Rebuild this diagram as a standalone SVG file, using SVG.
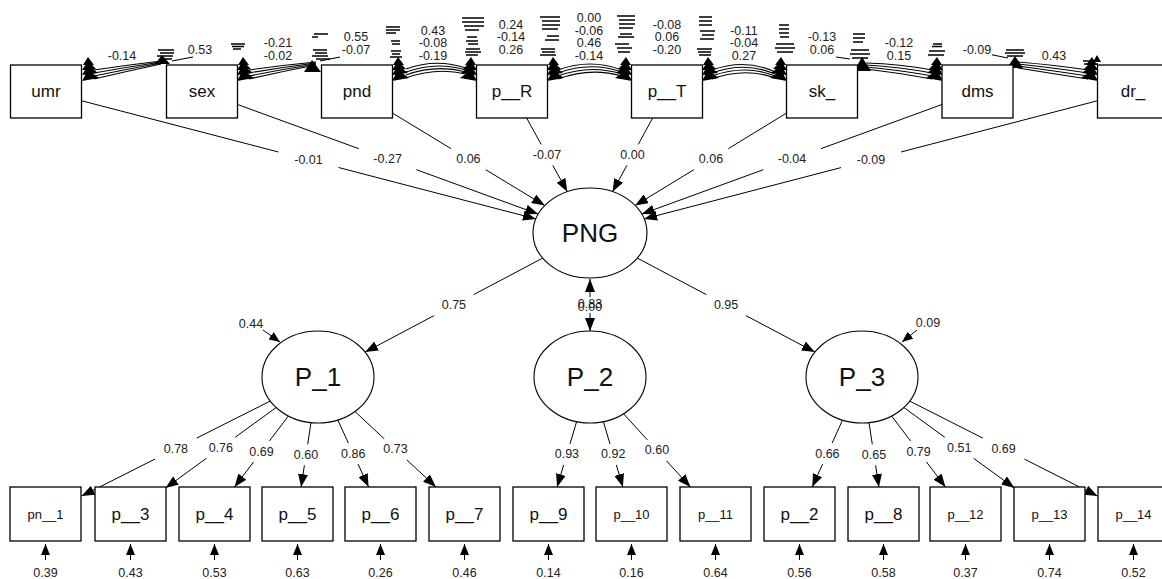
<svg xmlns="http://www.w3.org/2000/svg" width="1162" height="579" viewBox="0 0 1162 579">
  <style>
    .box { fill: #fff; stroke: #000; stroke-width: 1.3; }
    .lat { fill: #fff; stroke: #000; stroke-width: 1.1; }
    .edge { fill: none; stroke: #000; stroke-width: 1; }
    .fan { fill: none; stroke: #000; stroke-width: 1.1; }
    .clut { fill: none; stroke: #000; stroke-width: 1.3; }
    .lbl { font-family: "Liberation Sans", Arial, sans-serif; font-size: 12.5px; text-anchor: middle; dominant-baseline: central; fill: #222; }
    .bg { fill: #fff; }
    .nm { font-family: "Liberation Sans", Arial, sans-serif; font-size: 17px; text-anchor: middle; dominant-baseline: central; fill: #111; }
    .nms { font-size: 13px; }
    .lv { font-family: "Liberation Sans", Arial, sans-serif; font-size: 26px; text-anchor: middle; dominant-baseline: central; fill: #111; }
  </style>
  <defs>
    <marker id="ah" viewBox="0 0 13 10" refX="13" refY="5" markerWidth="13" markerHeight="10" markerUnits="userSpaceOnUse" orient="auto">
      <path d="M0,0 L13,5 L0,10 Z" fill="#000"/>
    </marker>
    <marker id="ahs" viewBox="0 0 11 9" refX="11" refY="4.5" markerWidth="11" markerHeight="9" markerUnits="userSpaceOnUse" orient="auto">
      <path d="M0,0 L11,4.5 L0,9 Z" fill="#000"/>
    </marker>
    <!-- stacked covariance arrowheads at a box corner -->
    <path id="tree" d="M5,-8 L0,0 L11,0 Z M5,-4 L-1,5 L13,4 Z M5,0 L-1,10 L15,8 Z M5,5 L-1,16 L16,13 Z" fill="#000"/>
  </defs>

  <!-- connectors -->
  <g id="connectors">
    <!-- covariance curves among the exogenous variables -->
    <g id="covariances">
      <path class="fan" d="M94,79 Q128,71 161,64 M94,76 Q128,69 161,63 M94,73 Q128,67 161,62 M94,70 Q128,65 161,61"/>
      <path class="fan" d="M249,79 Q284,71 316,65 M249,76 Q284,69 316,64 M249,73 Q284,67 316,63 M249,70 Q284,65 316,62"/>
      <path class="fan" d="M406,69 Q436,58 466,68 M406,72 Q436,61 466,70 M406,75 Q436,64 466,72 M406,78 Q436,67 466,74"/>
      <path class="fan" d="M558,70 Q590,58 622,70 M558,73 Q590,61 622,72 M558,76 Q590,64 622,74 M558,79 Q590,67 622,76"/>
      <path class="fan" d="M712,70 Q745,58 775,72 M712,73 Q745,61 775,74 M712,76 Q745,64 775,76 M712,79 Q745,67 775,78"/>
      <path class="fan" d="M866,63 Q900,64 932,70 M866,65 Q900,67 932,73 M866,67 Q900,70 932,76 M866,69 Q900,73 932,79"/>
      <path class="fan" d="M1018,62 Q1055,65 1088,70 M1018,64 Q1055,68 1088,73 M1018,66 Q1055,71 1088,76 M1018,68 Q1055,74 1088,79"/>
      <path class="fan" d="M172,61 L193,57 M320,61 L340,57 M836,57 L850,59 M988,54 L1008,58"/>

      <use href="#tree" transform="translate(83,65)"/>
      <use href="#tree" transform="translate(238,65)"/>
      <use href="#tree" transform="translate(393,65)"/>
      <use href="#tree" transform="translate(476,65) scale(-1,1)"/>
      <use href="#tree" transform="translate(548,65)"/>
      <use href="#tree" transform="translate(631,65) scale(-1,1)"/>
      <use href="#tree" transform="translate(703,65)"/>
      <use href="#tree" transform="translate(786,65) scale(-1,1)"/>
      <use href="#tree" transform="translate(942,65) scale(-1,1)"/>
      <use href="#tree" transform="translate(1097,65) scale(-1,1)"/>
      <path d="M162,55 L155,64 L170,64 Z M312,60 L304,72 L321,72 Z M862,57 L854,71 L871,71 Z M1015,56 L1007,68 L1023,68 Z M1097,55 L1093,62 L1101,62 Z" fill="#000"/>

      <path class="clut" d="M158,50h16 M160,53h14 M157,56h16 M160,59h12
        M231,44h14 M232,46.5h12 M233,49h8
        M314,34h14 M312,37h6 M313,50h14 M315,53h12 M312,56h16 M316,59h14
        M386,27h14 M386,30h14 M386,33h10 M391,41h9 M392,44h8 M391,51h10 M392,54h8 M390,57h12
        M462,18h22 M462,22h22 M464,26h20 M465,30h14 M467,37h10 M466,41h12 M468,44h10 M466,49h14 M465,52h16 M466,55h12
        M540,17h20 M542,21h18 M542,25h18 M542,29h16 M547,36h12 M545,40h14 M541,49h14 M542,52h13 M540,55h16
        M617,16h18 M619,20h16 M619,24h16 M619,28h14 M620,34h12 M618,37h16 M615,44h14 M617,48h15 M618,52h12
        M699,17h13 M699,21h13 M699,25h13 M700,31h15 M702,35h12 M700,39h14 M697,49h15 M698,52h13 M699,55h12
        M779,25h10 M779,29h10 M779,33h10 M780,37h9 M776,44h18 M775,48h20 M777,52h16
        M853,34h12 M853,38h12 M853,42h10 M851,50h18 M850,54h20 M852,58h16
        M933,44h9 M932,46.5h10 M929,51h16 M928,55h16
        M1006,50h18 M1005,53h20 M1007,56h16
        M1083,61h14 M1084,64h14"/>

      <g id="cov-labels">
        <g class="bg">
          <rect x="107" y="49.5" width="30" height="12"/>
          <rect x="186" y="44" width="28" height="12"/>
          <rect x="263" y="37" width="30" height="25"/>
          <rect x="341" y="31" width="30" height="25"/>
          <rect x="418" y="24.7" width="30" height="37"/>
          <rect x="496" y="18.5" width="30" height="37"/>
          <rect x="574" y="12.3" width="30" height="49"/>
          <rect x="652" y="18.5" width="30" height="37"/>
          <rect x="729" y="24.7" width="30" height="37"/>
          <rect x="807" y="31" width="30" height="25"/>
          <rect x="884" y="37" width="30" height="25"/>
          <rect x="962" y="44" width="30" height="12"/>
          <rect x="1040" y="49.5" width="28" height="12"/>
        </g>
        <text class="lbl" x="122" y="55.5">-0.14</text>
        <text class="lbl" x="200" y="50">0.53</text>
        <text class="lbl" x="278" y="43">-0.21</text>
        <text class="lbl" x="278" y="55.5">-0.02</text>
        <text class="lbl" x="356" y="37">0.55</text>
        <text class="lbl" x="356" y="50">-0.07</text>
        <text class="lbl" x="433" y="30.7">0.43</text>
        <text class="lbl" x="433" y="43">-0.08</text>
        <text class="lbl" x="433" y="55.5">-0.19</text>
        <text class="lbl" x="511" y="24.5">0.24</text>
        <text class="lbl" x="511" y="37">-0.14</text>
        <text class="lbl" x="511" y="49.5">0.26</text>
        <text class="lbl" x="589" y="18.3">0.00</text>
        <text class="lbl" x="589" y="30.7">-0.06</text>
        <text class="lbl" x="589" y="43">0.46</text>
        <text class="lbl" x="589" y="55.5">-0.14</text>
        <text class="lbl" x="667" y="24.5">-0.08</text>
        <text class="lbl" x="667" y="37">0.06</text>
        <text class="lbl" x="667" y="49.5">-0.20</text>
        <text class="lbl" x="744" y="30.7">-0.11</text>
        <text class="lbl" x="744" y="43">-0.04</text>
        <text class="lbl" x="744" y="55.5">0.27</text>
        <text class="lbl" x="822" y="37">-0.13</text>
        <text class="lbl" x="822" y="50">0.06</text>
        <text class="lbl" x="899" y="43">-0.12</text>
        <text class="lbl" x="899" y="55.5">0.15</text>
        <text class="lbl" x="977" y="50">-0.09</text>
        <text class="lbl" x="1054" y="55.5">0.43</text>
      </g>
    </g>

    <!-- regressions onto PNG -->
    <g id="regressions">
      <path class="edge" marker-end="url(#ah)" d="M81,100.6 L278.4,152 M338.5,167.5 L535.9,218.9"/>
      <path class="edge" marker-end="url(#ah)" d="M237,104.3 L358.8,148.7 M416.4,169.7 L538.2,214.1"/>
      <path class="edge" marker-end="url(#ah)" d="M392,112.8 L451.1,148.7 M485.7,169.7 L544.8,205.6"/>
      <path class="edge" marker-end="url(#ah)" d="M526.6,118 L541.2,144.4 M552.8,165.4 L567.3,191.7"/>
      <path class="edge" marker-end="url(#ah)" d="M652.6,118 L638.3,144.4 M626.9,165.4 L612.5,191.7"/>
      <path class="edge" marker-end="url(#ah)" d="M787,112.8 L728.3,148.7 M693.9,169.7 L635.1,205.5"/>
      <path class="edge" marker-end="url(#ah)" d="M942.5,104.3 L820.9,148.7 M763.3,169.7 L641.7,214.1"/>
      <path class="edge" marker-end="url(#ah)" d="M1098,100.6 L901,152 M841,167.6 L644.1,218.9"/>
      <text class="lbl" x="308.5" y="159.7">-0.01</text>
      <text class="lbl" x="387.6" y="159.2">-0.27</text>
      <text class="lbl" x="468.4" y="159.2">0.06</text>
      <text class="lbl" x="547" y="154.9">-0.07</text>
      <text class="lbl" x="632.5" y="154.9">0.00</text>
      <text class="lbl" x="711" y="159.2">0.06</text>
      <text class="lbl" x="792" y="159.2">-0.04</text>
      <text class="lbl" x="871" y="159.7">-0.09</text>
    </g>

    <!-- PNG to first-order factors -->
    <g id="second-order">
      <path class="edge" marker-end="url(#ah)" d="M542.7,258.1 L473.7,294.6 M434.1,315.6 L365.1,352.1"/>
      <path class="edge" marker-end="url(#ah)" d="M637.3,258.1 L706.3,294.6 M745.9,315.6 L814.9,352.1"/>
      <path class="edge" marker-end="url(#ah)" d="M590,297 L590,279"/>
      <path class="edge" marker-end="url(#ah)" d="M590,313 L590,331"/>
      <text class="lbl" x="453.9" y="305">0.75</text>
      <text class="lbl" x="726.1" y="305">0.95</text>
      <!-- coincident labels of the two PNG–P_2 paths -->
      <text class="lbl" x="590" y="304">0.83</text>
      <text class="lbl" x="590" y="307">0.00</text>
      <path class="edge" marker-end="url(#ahs)" d="M263,330 L280,342"/>
      <path class="edge" marker-end="url(#ahs)" d="M917,330 L902,342"/>
      <text class="lbl" x="251" y="324">0.44</text>
      <text class="lbl" x="928" y="323">0.09</text>
    </g>

    <!-- factor loadings -->
    <g id="loadings">
      <path class="edge" marker-end="url(#ah)" d="M270.3,401 L196.7,438.1 M155.1,459 L81.5,496.1"/>
      <path class="edge" marker-end="url(#ah)" d="M276.1,407.5 L235.2,437.3 M206.4,458.3 L165.5,488.1"/>
      <path class="edge" marker-end="url(#ah)" d="M288.4,416 L269.4,441 M253.5,462 L234.5,487"/>
      <path class="edge" marker-end="url(#ah)" d="M311,422.6 L307.7,444.3 M304.4,465.3 L301.1,487"/>
      <path class="edge" marker-end="url(#ah)" d="M337.8,420 L348.4,443 M358,464 L368.6,487"/>
      <path class="edge" marker-end="url(#ah)" d="M355,411.5 L384.2,438.8 M406.8,459.8 L436,487"/>
      <path class="edge" marker-end="url(#ah)" d="M576.6,421.7 L570,443.9 M563.7,464.9 L557.1,487"/>
      <path class="edge" marker-end="url(#ah)" d="M603.4,421.7 L610,443.9 M616.3,464.9 L622.9,487"/>
      <path class="edge" marker-end="url(#ah)" d="M623.6,413.8 L647.4,439.9 M666.6,460.9 L690.4,487"/>
      <path class="edge" marker-end="url(#ah)" d="M842.5,420.1 L832.1,443.1 M822.6,464.1 L812.2,487"/>
      <path class="edge" marker-end="url(#ah)" d="M869,422.6 L872.3,444.3 M875.6,465.3 L878.9,487"/>
      <path class="edge" marker-end="url(#ah)" d="M891.6,416 L910.6,441 M926.5,462 L945.5,487"/>
      <path class="edge" marker-end="url(#ah)" d="M903.9,407.5 L944.8,437.3 M973.6,458.3 L1014.5,488.1"/>
      <path class="edge" marker-end="url(#ah)" d="M909.7,401.1 L982.8,438.1 M1024.4,459.1 L1097.5,496.1"/>
      <text class="lbl" x="175.9" y="448.6">0.78</text>
      <text class="lbl" x="220.8" y="447.8">0.76</text>
      <text class="lbl" x="261.5" y="451.5">0.69</text>
      <text class="lbl" x="306" y="454.8">0.60</text>
      <text class="lbl" x="353.2" y="453.5">0.86</text>
      <text class="lbl" x="395.5" y="449.3">0.73</text>
      <text class="lbl" x="566.9" y="454.4">0.93</text>
      <text class="lbl" x="613.2" y="454.4">0.92</text>
      <text class="lbl" x="657" y="450.4">0.60</text>
      <text class="lbl" x="827.4" y="453.6">0.66</text>
      <text class="lbl" x="874" y="454.8">0.65</text>
      <text class="lbl" x="918.6" y="451.5">0.79</text>
      <text class="lbl" x="959.2" y="447.8">0.51</text>
      <text class="lbl" x="1003.6" y="448.6">0.69</text>
    </g>

    <!-- residual variances of the indicators -->
    <g id="residuals">
      <path class="edge" marker-end="url(#ahs)" d="M45.5,560 V544"/>
      <path class="edge" marker-end="url(#ahs)" d="M130.5,560 V544"/>
      <path class="edge" marker-end="url(#ahs)" d="M214.5,560 V544"/>
      <path class="edge" marker-end="url(#ahs)" d="M297.5,560 V544"/>
      <path class="edge" marker-end="url(#ahs)" d="M380.5,560 V544"/>
      <path class="edge" marker-end="url(#ahs)" d="M464.5,560 V544"/>
      <path class="edge" marker-end="url(#ahs)" d="M548.5,560 V544"/>
      <path class="edge" marker-end="url(#ahs)" d="M631.5,560 V544"/>
      <path class="edge" marker-end="url(#ahs)" d="M715.5,560 V544"/>
      <path class="edge" marker-end="url(#ahs)" d="M799.5,560 V544"/>
      <path class="edge" marker-end="url(#ahs)" d="M883.5,560 V544"/>
      <path class="edge" marker-end="url(#ahs)" d="M965.5,560 V544"/>
      <path class="edge" marker-end="url(#ahs)" d="M1049.5,560 V544"/>
      <path class="edge" marker-end="url(#ahs)" d="M1133.5,560 V544"/>
      <text class="lbl" x="45.5" y="573">0.39</text>
      <text class="lbl" x="130.5" y="573">0.43</text>
      <text class="lbl" x="214.5" y="573">0.53</text>
      <text class="lbl" x="297.5" y="573">0.63</text>
      <text class="lbl" x="380.5" y="573">0.26</text>
      <text class="lbl" x="464.5" y="573">0.46</text>
      <text class="lbl" x="548.5" y="573">0.14</text>
      <text class="lbl" x="631.5" y="573">0.16</text>
      <text class="lbl" x="715.5" y="573">0.64</text>
      <text class="lbl" x="799.5" y="573">0.56</text>
      <text class="lbl" x="883.5" y="573">0.58</text>
      <text class="lbl" x="965.5" y="573">0.37</text>
      <text class="lbl" x="1049.5" y="573">0.74</text>
      <text class="lbl" x="1133.5" y="573">0.52</text>
    </g>
  </g>

  <!-- observed exogenous variables -->
  <g id="umr"><rect class="box" x="10.5" y="65" width="71" height="53"/><text class="nm" x="46" y="91.5">umr</text></g>
  <g id="sex"><rect class="box" x="166.5" y="65" width="71" height="53"/><text class="nm" x="202" y="91.5">sex</text></g>
  <g id="pnd"><rect class="box" x="321.5" y="65" width="71" height="53"/><text class="nm" x="357" y="91.5">pnd</text></g>
  <g id="p__R"><rect class="box" x="476.5" y="65" width="71" height="53"/><text class="nm" x="512" y="91.5">p__R</text></g>
  <g id="p__T"><rect class="box" x="631.5" y="65" width="71" height="53"/><text class="nm" x="667" y="91.5">p__T</text></g>
  <g id="sk_"><rect class="box" x="786.5" y="65" width="71" height="53"/><text class="nm" x="822" y="91.5">sk_</text></g>
  <g id="dms"><rect class="box" x="942" y="65" width="71" height="53"/><text class="nm" x="977.5" y="91.5">dms</text></g>
  <g id="dr_"><rect class="box" x="1097.5" y="65" width="71" height="53"/><text class="nm" x="1133" y="91.5">dr_</text></g>

  <!-- latent variables -->
  <g id="PNG"><ellipse class="lat" cx="590" cy="233" rx="57" ry="45"/><text class="lv" x="590" y="233">PNG</text></g>
  <g id="P_1"><ellipse class="lat" cx="318" cy="377" rx="56" ry="46"/><text class="lv" x="318" y="377">P_1</text></g>
  <g id="P_2"><ellipse class="lat" cx="590" cy="377" rx="56" ry="46"/><text class="lv" x="590" y="377">P_2</text></g>
  <g id="P_3"><ellipse class="lat" cx="862" cy="377" rx="56" ry="46"/><text class="lv" x="862" y="377">P_3</text></g>

  <!-- indicators -->
  <g id="pn__1"><rect class="box" x="10" y="487" width="71" height="54"/><text class="nm nms" x="45.5" y="514">pn__1</text></g>
  <g id="p__3"><rect class="box" x="95" y="487" width="71" height="54"/><text class="nm" x="130.5" y="514">p__3</text></g>
  <g id="p__4"><rect class="box" x="179" y="487" width="71" height="54"/><text class="nm" x="214.5" y="514">p__4</text></g>
  <g id="p__5"><rect class="box" x="262" y="487" width="71" height="54"/><text class="nm" x="297.5" y="514">p__5</text></g>
  <g id="p__6"><rect class="box" x="345" y="487" width="71" height="54"/><text class="nm" x="380.5" y="514">p__6</text></g>
  <g id="p__7"><rect class="box" x="429" y="487" width="71" height="54"/><text class="nm" x="464.5" y="514">p__7</text></g>
  <g id="p__9"><rect class="box" x="513" y="487" width="71" height="54"/><text class="nm" x="548.5" y="514">p__9</text></g>
  <g id="p__10"><rect class="box" x="596" y="487" width="71" height="54"/><text class="nm nms" x="631.5" y="514">p__10</text></g>
  <g id="p__11"><rect class="box" x="680" y="487" width="71" height="54"/><text class="nm nms" x="715.5" y="514">p__11</text></g>
  <g id="p__2"><rect class="box" x="764" y="487" width="71" height="54"/><text class="nm" x="799.5" y="514">p__2</text></g>
  <g id="p__8"><rect class="box" x="848" y="487" width="71" height="54"/><text class="nm" x="883.5" y="514">p__8</text></g>
  <g id="p__12"><rect class="box" x="930" y="487" width="71" height="54"/><text class="nm nms" x="965.5" y="514">p__12</text></g>
  <g id="p__13"><rect class="box" x="1014" y="487" width="71" height="54"/><text class="nm nms" x="1049.5" y="514">p__13</text></g>
  <g id="p__14"><rect class="box" x="1098" y="487" width="71" height="54"/><text class="nm nms" x="1133.5" y="514">p__14</text></g>
</svg>
